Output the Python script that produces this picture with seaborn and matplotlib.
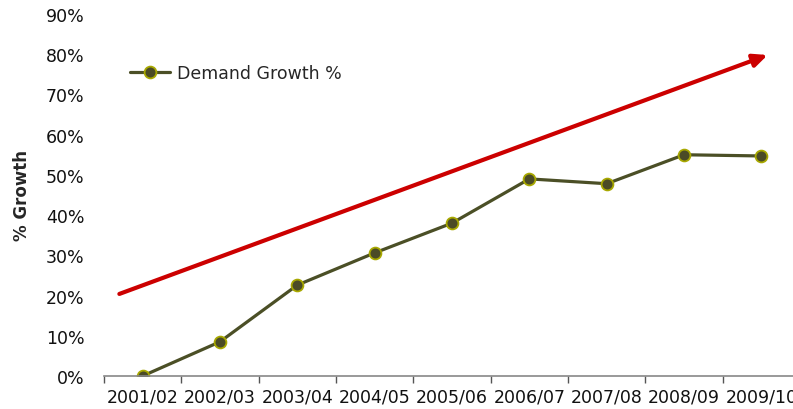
import matplotlib
matplotlib.use("Agg")
import matplotlib.pyplot as plt
import seaborn as sns
import pandas as pd
from matplotlib.ticker import FixedLocator, PercentFormatter

years = ["2001/02", "2002/03", "2003/04", "2004/05", "2005/06",
         "2006/07", "2007/08", "2008/09", "2009/10"]
growth = [0.0, 0.085, 0.226, 0.306, 0.380, 0.490, 0.478, 0.550, 0.547]
trend_start = (-0.3, 0.204)
trend_end = (8.08, 0.798)

sns.set_theme(style="white")
plt.rcParams['font.family'] = ['DejaVu Sans']

df = pd.DataFrame({"pos": range(len(years)), "growth": growth,
                   "series": "Demand Growth %"})

fig = plt.figure(figsize=(7.93, 4.10), dpi=100)
ax = fig.add_axes([0.131, 0.0805, 0.878, 0.883])

sns.lineplot(data=df, x="pos", y="growth", hue="series",
             palette=["#4B4F26"], marker="o", markersize=8.5,
             markerfacecolor="#4B4B26", markeredgecolor="#A8A800",
             markeredgewidth=1.3, linewidth=2.3, ax=ax)

ax.annotate("", xy=trend_end, xytext=trend_start,
            arrowprops=dict(arrowstyle="-|>,head_length=0.7,head_width=0.32",
                            color="#CC0000", lw=3, shrinkA=0, shrinkB=0))

ax.set_xlim(-0.5, len(years) - 0.5)
ax.set_ylim(0, 0.9)
ax.yaxis.set_major_locator(FixedLocator([i / 10 for i in range(10)]))
ax.yaxis.set_major_formatter(PercentFormatter(1.0, decimals=0))

ax.xaxis.set_major_locator(FixedLocator([i - 0.5 for i in range(len(years) + 1)]))
ax.xaxis.set_minor_locator(FixedLocator(list(range(len(years)))))
ax.set_xticklabels([], minor=False)
ax.set_xticklabels(years, minor=True)
ax.tick_params(axis="x", which="major", length=5, width=1, color="#555555",
               direction="out", bottom=True)
ax.tick_params(axis="x", which="minor", length=0, pad=8, labelsize=12.5,
               labelcolor="#111111")
ax.tick_params(axis="y", length=0, pad=14, labelsize=12.5, labelcolor="#111111")

for s in ["top", "right", "left"]:
    ax.spines[s].set_visible(False)
ax.spines["bottom"].set_color("#888888")
ax.spines["bottom"].set_linewidth(1.2)

ax.set_xlabel("")
ax.set_ylabel("% Growth", fontsize=12, fontweight="bold")
ax.yaxis.set_label_coords(-0.105, 0.5)

leg = ax.legend(loc="upper left", bbox_to_anchor=(0.015, 0.905), frameon=False,
                fontsize=12.5, handlelength=2.3, handletextpad=0.4)

fig.savefig("out.png", dpi=100)
